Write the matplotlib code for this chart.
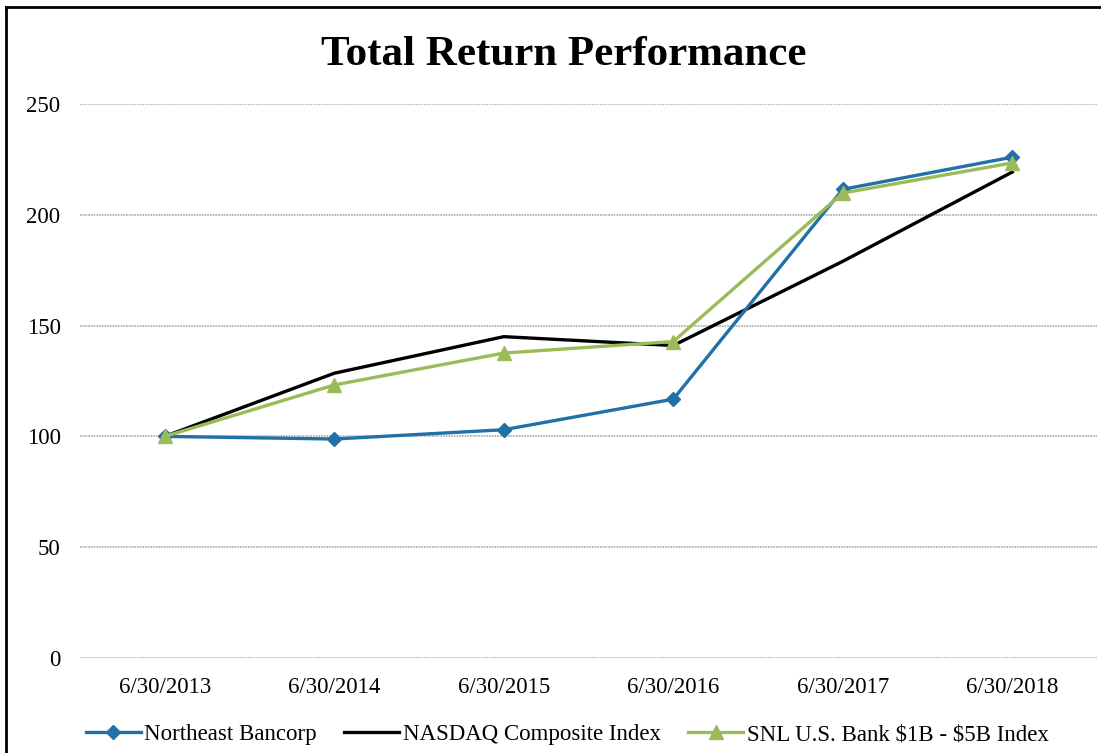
import numpy as np
import matplotlib
matplotlib.use("Agg")
from matplotlib import pyplot as plt
from matplotlib.lines import Line2D

# Data
dates = ["6/30/2013", "6/30/2014", "6/30/2015", "6/30/2016", "6/30/2017", "6/30/2018"]
northeast = [100, 98.8, 103.0, 116.8, 211.5, 226.0]
nasdaq = [100, 128.5, 145.0, 141.0, 179.0, 219.3]
snl = [100, 123.2, 137.6, 142.8, 209.8, 223.4]
yticks = [0, 50, 100, 150, 200, 250]

plt.rcParams['font.family'] = ['Liberation Serif', 'DejaVu Serif']

fig = plt.figure(figsize=(11.01, 7.53), dpi=100)
ax = fig.add_axes([0.0727, 0.1262, 0.9237, 0.7357])

x = np.arange(len(dates))
ax.plot(x, northeast, color='#2271A6', lw=2.4, marker='D', ms=7.5,
        label='Northeast Bancorp', zorder=3)
ax.plot(x, nasdaq, color='black', lw=2.4, label='NASDAQ Composite Index', zorder=2)
ax.plot(x, snl, color='#9BBB59', lw=2.4, marker='^', ms=10.5,
        label='SNL U.S. Bank \\$1B - \\$5B Index', zorder=4)

ax.set_xlim(-0.5, len(dates) - 0.5)
ax.set_ylim(0, 250)
ax.set_yticks(yticks)
ax.set_xticks(x)
ax.set_xticklabels(dates)
ax.grid(axis='y', color='#B4B4B4', lw=1.3, linestyle=(0, (1, 0.5)))
ax.set_axisbelow(True)
for s in ax.spines.values():
    s.set_visible(False)
ax.tick_params(axis='both', length=0, labelsize=16.5, colors='black')
ax.tick_params(axis='y', pad=14)
ax.tick_params(axis='x', pad=14)

fig.suptitle("Total Return Performance", x=0.512, y=0.952, fontsize=31,
             fontweight='bold', va='top')

handles = [
    Line2D([], [], color='#2271A6', lw=2.4, marker='D', ms=7.5),
    Line2D([], [], color='black', lw=2.4),
    Line2D([], [], color='#9BBB59', lw=2.4, marker='^', ms=10.5),
]
labels = ['Northeast Bancorp', 'NASDAQ Composite Index', 'SNL U.S. Bank \\$1B - \\$5B Index']
fig.legend(handles, labels, loc='center', bbox_to_anchor=(0.515, 0.024), ncol=3,
           frameon=False, fontsize=16.5, handlelength=2.4, handletextpad=0.15,
           columnspacing=1.2)

# outer border (left and top visible)
fig.add_artist(Line2D([0.0055, 0.0055], [0, 0.991], color='black', lw=2,
                      transform=fig.transFigure))
fig.add_artist(Line2D([0.0055, 1.0], [0.991, 0.991], color='black', lw=2,
                      transform=fig.transFigure))

fig.savefig("out.png", dpi=100, facecolor='white')
